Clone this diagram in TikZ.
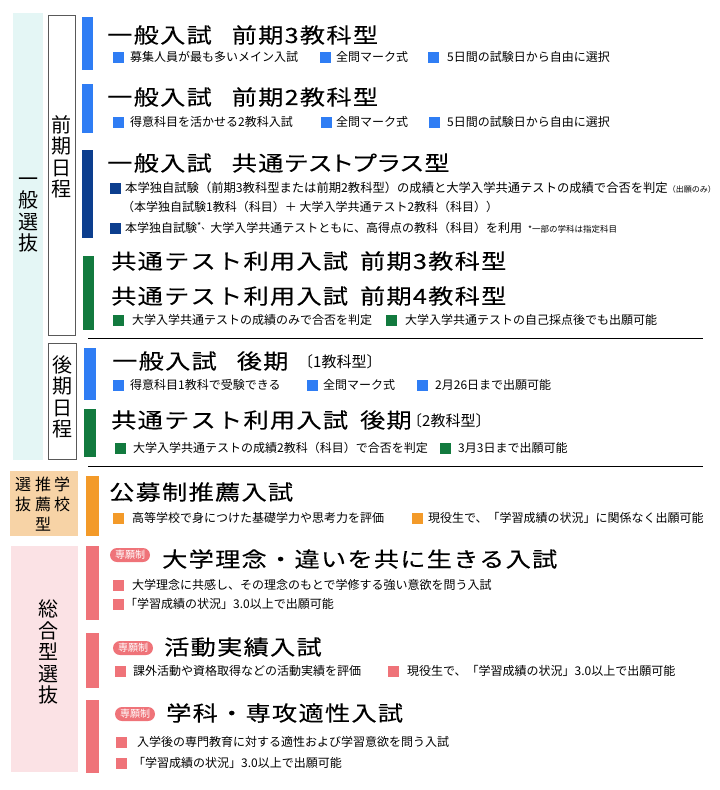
\documentclass[tikz,border=0pt]{standalone}
\usepackage{fontspec}
\newfontfamily\jp{Noto Sans CJK JP}
\newfontfamily\jpt[FakeStretch=1.2,LetterSpace=6,FakeBold=0.15]{Noto Sans CJK JP}
\definecolor{cblue}{HTML}{2F7DF4}
\definecolor{cdark}{HTML}{0C3E8E}
\definecolor{cgreen}{HTML}{127A3E}
\definecolor{corange}{HTML}{F39A29}
\definecolor{cpink}{HTML}{EF7379}
\definecolor{bgcyan}{HTML}{E4F6F5}
\definecolor{bgtan}{HTML}{F7D3A6}
\definecolor{bgpink}{HTML}{FBE2E5}
\begin{document}
\begin{tikzpicture}[x=1pt,y=-1pt,
  ttl/.style={anchor=west,inner sep=0,font=\jpt\fontsize{21}{21}\selectfont},
  ttlsub/.style={anchor=west,inner sep=0,font=\jp\fontsize{15}{15}\selectfont},
  txt/.style={anchor=west,inner sep=0,font=\jp\fontsize{12}{12}\selectfont},
  sq/.style={minimum size=11pt,inner sep=0,anchor=west,draw=none},
  vlab/.style={align=center,inner sep=0,font=\jp\fontsize{20}{21.5}\selectfont},
  badge/.style={fill=cpink,rounded corners=7pt,minimum width=40pt,minimum height=14pt,inner sep=0,text=white,font=\jp\fontsize{10}{10}\selectfont},
  sepline/.style={line width=0.9pt,black}]
\useasboundingbox (0,0) rectangle (720,790);

% left category backgrounds
\fill[bgcyan] (13,13) rectangle (43,460);
\node[vlab] (lab1) at (29,215) {一\\般\\選\\抜};
\draw[gray!70!black,line width=0.8pt,fill=white] (48,15) rectangle (75,335);
\node[vlab] (lab2) at (61.5,157) {前\\期\\日\\程};
\draw[gray!70!black,line width=0.8pt,fill=white] (48,343) rectangle (76,459);
\node[vlab] (lab3) at (62,397) {後\\期\\日\\程};
\fill[bgtan] (10,471) rectangle (78,536);
\node[inner sep=0,font=\jp\fontsize{16}{20}\selectfont,align=center,anchor=north] (lab4a) at (62,477) {学\\校};
\node[inner sep=0,font=\jp\fontsize{16}{20}\selectfont,align=center,anchor=north] (lab4b) at (43,477) {推\\薦\\型};
\node[inner sep=0,font=\jp\fontsize{16}{20}\selectfont,align=center,anchor=north] (lab4c) at (23,477) {選\\抜};
\fill[bgpink] (11,546) rectangle (78,772);
\node[vlab] (lab5) at (48,652) {総\\合\\型\\選\\抜};

% separator lines
\coordinate (l1a) at (88,338); \coordinate (l1b) at (703,338);
\coordinate (l2a) at (88,466); \coordinate (l2b) at (703,466);
\draw[sepline] (l1a) -- (l1b);
\draw[sepline] (l2a) -- (l2b);

% colour bars
\fill[cblue] (82,17) rectangle (93,70);
\fill[cblue] (82,84) rectangle (93,133);
\fill[cdark] (82,150) rectangle (93,238);
\fill[cgreen] (83,256) rectangle (94,330);
\fill[cblue] (84,348) rectangle (96,400);
\fill[cgreen] (84,409) rectangle (96,457);
\fill[corange] (86,476) rectangle (99,536);
\fill[cpink] (86,546) rectangle (99,620);
\fill[cpink] (86,633) rectangle (99,688);
\fill[cpink] (86,700) rectangle (99,773);

% section 1
\node[ttl] (s1) at (107,35) {一般入試\hspace{20pt}前期3教科型};
\node[sq,fill=cblue] (s1q1) at (113,57) {};
\node[txt] (s1t1) at (130,57) {募集人員が最も多いメイン入試};
\node[sq,fill=cblue] (s1q2) at (320,57) {};
\node[txt] (s1t2) at (336,57) {全問マーク式};
\node[sq,fill=cblue] (s1q3) at (428,57) {};
\node[txt] (s1t3) at (447,57) {5日間の試験日から自由に選択};

% section 2
\node[ttl] (s2) at (107,97) {一般入試\hspace{20pt}前期2教科型};
\node[sq,fill=cblue] (s2q1) at (113,122) {};
\node[txt] (s2t1) at (130,122) {得意科目を活かせる2教科入試};
\node[sq,fill=cblue] (s2q2) at (321,122) {};
\node[txt] (s2t2) at (336,122) {全問マーク式};
\node[sq,fill=cblue] (s2q3) at (429,122) {};
\node[txt] (s2t3) at (447,122) {5日間の試験日から自由に選択};

% section 3
\node[ttl] (s3) at (107,163) {一般入試\hspace{20pt}{\addfontfeature{RawFeature=+palt}共通テストプラス型}};
\node[sq,fill=cdark] (s3q1) at (110,188) {};
\node[txt,font=\jp\fontsize{12.3}{12.3}\selectfont] (s3t1) at (125,188) {本学独自試験（前期3教科型または前期2教科型）の成績と大学入学共通テストの成績で合否を判定{\fontsize{8}{8}\selectfont（出願のみ）}};
\node[txt] (s3t2) at (122,207) {（本学独自試験1教科（科目）＋ 大学入学共通テスト2教科（科目））};
\node[sq,fill=cdark] (s3q2) at (110,228) {};
\node[txt] (s3t3) at (125,228) {本学独自試験\raisebox{3pt}{\fontsize{9}{9}\selectfont *、}大学入学共通テストともに、高得点の教科（科目）を利用\hspace{6pt}{\fontsize{8.5}{8.5}\selectfont *一部の学科は指定科目}};

% section 4
\node[ttl] (s4a) at (111,261) {共通テスト利用入試\hspace{12pt}前期3教科型};
\node[ttl] (s4b) at (111,296) {共通テスト利用入試\hspace{12pt}前期4教科型};
\node[sq,fill=cgreen] (s4q1) at (113,320) {};
\node[txt] (s4t1) at (132,320) {大学入学共通テストの成績のみで合否を判定};
\node[sq,fill=cgreen] (s4q2) at (386,320) {};
\node[txt] (s4t2) at (405,320) {大学入学共通テストの自己採点後でも出願可能};

% section 5
\node[ttl] (s5) at (112,361) {一般入試\hspace{20pt}後期};
\node[ttlsub] (s5s) at (298,362) {〔1教科型〕};
\node[sq,fill=cblue] (s5q1) at (113,385) {};
\node[txt] (s5t1) at (130,385) {得意科目1教科で受験できる};
\node[sq,fill=cblue] (s5q2) at (307,385) {};
\node[txt] (s5t2) at (323,385) {全問マーク式};
\node[sq,fill=cblue] (s5q3) at (417,385) {};
\node[txt] (s5t3) at (435,385) {2月26日まで出願可能};

% section 6
\node[ttl] (s6) at (111,420) {共通テスト利用入試\hspace{12pt}後期};
\node[ttlsub] (s6s) at (407,421) {〔2教科型〕};
\node[sq,fill=cgreen] (s6q1) at (115,448) {};
\node[txt] (s6t1) at (133,448) {大学入学共通テストの成績2教科（科目）で合否を判定};
\node[sq,fill=cgreen] (s6q2) at (440,448) {};
\node[txt] (s6t2) at (458,448) {3月3日まで出願可能};

% section 7
\node[ttl] (s7) at (109,492) {公募制推薦入試};
\node[sq,fill=corange] (s7q1) at (113,518) {};
\node[txt] (s7t1) at (132,518) {高等学校で身につけた基礎学力や思考力を評価};
\node[sq,fill=corange] (s7q2) at (412,518) {};
\node[txt] (s7t2) at (428,518) {現役生で、「学習成績の状況」に関係なく出願可能};

% section 8
\node[badge] (s8b) at (130,555) {専願制};
\node[ttl] (s8) at (162,559) {大学理念・違いを共に生きる入試};
\node[sq,fill=cpink] (s8q1) at (113,585) {};
\node[txt] (s8t1) at (132,585) {大学理念に共感し、その理念のもとで学修する強い意欲を問う入試};
\node[sq,fill=cpink] (s8q2) at (113,604) {};
\node[txt] (s8t2) at (125,604) {「学習成績の状況」3.0以上で出願可能};

% section 9
\node[badge] (s9b) at (133,648) {専願制};
\node[ttl] (s9) at (164,647) {活動実績入試};
\node[sq,fill=cpink] (s9q1) at (115,671) {};
\node[txt] (s9t1) at (133,671) {課外活動や資格取得などの活動実績を評価};
\node[sq,fill=cpink] (s9q2) at (388,671) {};
\node[txt] (s9t2) at (407,671) {現役生で、「学習成績の状況」3.0以上で出願可能};

% section 10
\node[badge] (s10b) at (135,714) {専願制};
\node[ttl] (s10) at (166,713) {学科・専攻適性入試};
\node[sq,fill=cpink] (s10q1) at (116,742) {};
\node[txt] (s10t1) at (137,742) {入学後の専門教育に対する適性および学習意欲を問う入試};
\node[sq,fill=cpink] (s10q2) at (116,763) {};
\node[txt] (s10t2) at (133,763) {「学習成績の状況」3.0以上で出願可能};
\end{tikzpicture}
\end{document}
